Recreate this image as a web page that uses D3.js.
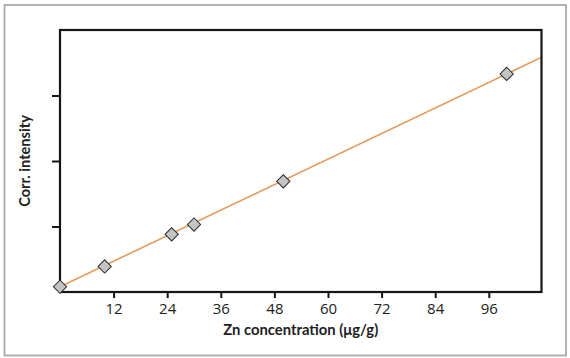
<!DOCTYPE html>
<html>
<head>
<meta charset="utf-8">
<script src="https://cdn.jsdelivr.net/npm/d3@7"></script>
<style>
  html, body { margin: 0; padding: 0; background: #fff; }
  svg { display: block; }
</style>
</head>
<body>
<svg id="chart" width="570" height="358"></svg>
<script>
// Data
const concentrations = [0, 10, 25, 30, 50, 100];
const intensities = [0.08, 0.39, 0.88, 1.03, 1.69, 3.33];
const fitX = [0, 108];
const fitY = [0.08, 3.59];
const xTicks = [12, 24, 36, 48, 60, 72, 84, 96];
const yTicks = [1, 2, 3];
const xLabel = "Zn concentration (μg/g)";
const yLabel = "Corr. intensity";

const svg = d3.select("#chart");
const m = { left: 60, top: 30, right: 541.5, bottom: 292 };

svg.append("rect").attr("x", 4.5).attr("y", 5).attr("width", 561.5).attr("height", 350.5)
  .attr("fill", "#fff").attr("stroke", "#a9a9a9").attr("stroke-width", 1.8);

const x = d3.scaleLinear().domain([0, 107.8]).range([m.left, m.right]);
const y = d3.scaleLinear().domain([0, 4]).range([m.bottom, m.top]);

// fit line
const line = d3.line().x((d, i) => x(fitX[i])).y((d, i) => y(fitY[i]));
svg.append("path").datum(fitX).attr("d", line)
  .attr("fill", "none").attr("stroke", "#e49a5c").attr("stroke-width", 1.6);

// frame
svg.append("rect").attr("x", m.left).attr("y", m.top)
  .attr("width", m.right - m.left).attr("height", m.bottom - m.top)
  .attr("fill", "none").attr("stroke", "#151515").attr("stroke-width", 2.2);

// x axis
const xAxis = svg.append("g").attr("transform", `translate(0,${m.bottom})`)
  .call(d3.axisBottom(x).tickValues(xTicks).tickSize(6).tickPadding(5).tickFormat(d3.format("d")));
xAxis.select(".domain").remove();
xAxis.selectAll(".tick line").attr("stroke", "#151515").attr("stroke-width", 2);
xAxis.selectAll(".tick text").attr("fill", "#222").style("font-family", "'Open Sans', sans-serif").style("font-size", "15px");

// y axis
const yAxis = svg.append("g").attr("transform", `translate(${m.left},0)`)
  .call(d3.axisLeft(y).tickValues(yTicks).tickSize(8).tickFormat(""));
yAxis.select(".domain").remove();
yAxis.selectAll(".tick line").attr("stroke", "#151515").attr("stroke-width", 2);

// points
svg.append("g").selectAll("path").data(concentrations).join("path")
  .attr("transform", (d, i) => `translate(${x(d)},${y(intensities[i])}) rotate(45)`)
  .attr("d", d3.symbol().type(d3.symbolSquare).size(88))
  .attr("fill", "#c4c4c4").attr("stroke", "#2a2a2a").attr("stroke-width", 1);

// labels
svg.append("text").attr("x", (m.left + m.right) / 2).attr("y", 335)
  .attr("text-anchor", "middle").attr("fill", "#222")
  .style("font-family", "Lato, sans-serif").style("font-weight", "bold").style("font-size", "14.8px")
  .text(xLabel);
svg.append("text").attr("transform", `translate(30,${(m.top + m.bottom) / 2}) rotate(-90)`)
  .attr("text-anchor", "middle").attr("fill", "#222")
  .style("font-family", "Lato, sans-serif").style("font-weight", "bold").style("font-size", "14.6px")
  .text(yLabel);
</script>
</body>
</html>
